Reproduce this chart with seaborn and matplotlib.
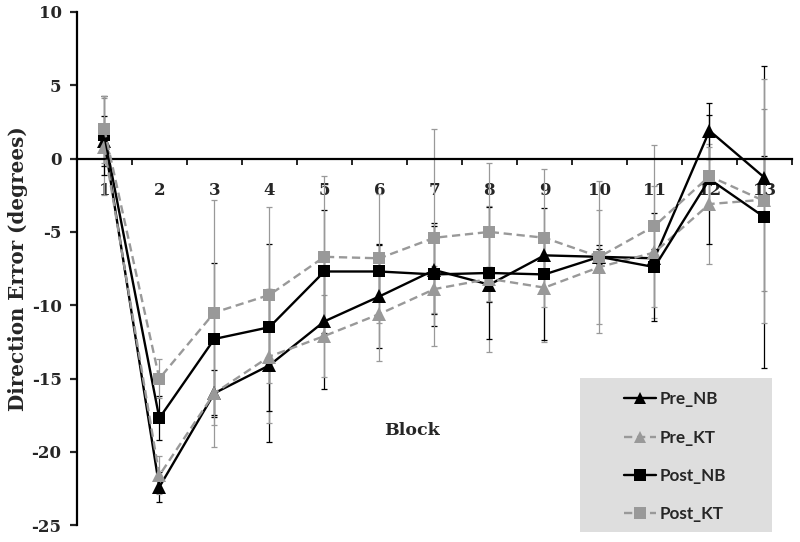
import numpy as np
import pandas as pd
import matplotlib
matplotlib.use("Agg")
import matplotlib.pyplot as plt
from matplotlib.lines import Line2D
from matplotlib.patches import Rectangle
import seaborn as sns

# data
blocks = list(range(1, 14))
groups = ["Pre_NB", "Pre_KT", "Post_NB", "Post_KT"]

pre_nb = [1.2, -22.4, -16.0, -14.1, -11.1, -9.4, -7.6, -8.6, -6.6, -6.7, -6.8, 1.9, -1.3]
pre_kt = [0.8, -21.6, -16.0, -13.5, -12.1, -10.6, -8.9, -8.2, -8.8, -7.4, -6.4, -3.1, -2.8]
post_nb = [1.6, -17.7, -12.3, -11.5, -7.7, -7.7, -7.9, -7.8, -7.9, -6.7, -7.4, -1.4, -4.0]
post_kt = [2.0, -15.0, -10.5, -9.3, -6.7, -6.8, -5.4, -5.0, -5.4, -6.7, -4.6, -1.2, -2.9]

pre_nb_err = [1.7, 1.0, 1.6, 5.2, 4.6, 3.5, 3.0, 1.2, 1.0, 0.5, 0.6, 1.9, 1.5]
pre_kt_err = [3.3, 1.3, 3.7, 4.5, 2.8, 3.2, 1.6, 5.0, 3.7, 3.9, 4.5, 4.1, 6.2]
post_nb_err = [2.7, 1.5, 5.2, 5.7, 4.2, 1.9, 3.5, 4.5, 4.5, 0.8, 3.7, 4.4, 10.3]
post_kt_err = [2.3, 1.3, 7.7, 6.0, 5.5, 4.4, 7.4, 4.7, 4.7, 5.2, 5.5, 2.0, 8.3]

values = {"Pre_NB": pre_nb, "Pre_KT": pre_kt, "Post_NB": post_nb, "Post_KT": post_kt}
errors = {"Pre_NB": pre_nb_err, "Pre_KT": pre_kt_err, "Post_NB": post_nb_err, "Post_KT": post_kt_err}

GRAY = "#999999"
colors = {"Pre_NB": "black", "Pre_KT": GRAY, "Post_NB": "black", "Post_KT": GRAY}
markers = {"Pre_NB": "^", "Pre_KT": "^", "Post_NB": "s", "Post_KT": "s"}
dashes = {"Pre_NB": "", "Pre_KT": (3.5, 2), "Post_NB": "", "Post_KT": (3.5, 2)}

df = pd.DataFrame({
    "Block": np.tile(blocks, len(groups)),
    "Error": np.concatenate([values[g] for g in groups]),
    "Group": np.repeat(groups, len(blocks)),
})

sns.set_theme(style="white")
plt.rcParams["font.family"] = ["DejaVu Serif"]

fig = plt.figure(figsize=(8, 5.42), dpi=100)
ax = fig.add_axes([0.096, 0.031, 0.894, 0.947])

# error bars first, so the lines sit on top
for g in groups:
    ax.errorbar(blocks, values[g], yerr=errors[g], fmt="none", ecolor=colors[g],
                elinewidth=0.9, capsize=2.5, capthick=0.9, zorder=1)

for i, g in enumerate(groups):
    sub = df[df["Group"] == g]
    sns.lineplot(data=sub, x="Block", y="Error", color=colors[g], marker=markers[g],
                 markersize=9.5 if markers[g] == "^" else 8.5, markeredgewidth=0,
                 linewidth=1.7, ax=ax, legend=False, zorder=3 + i,
                 linestyle="-" if not dashes[g] else "--")
    if dashes[g]:
        ax.lines[-1].set_dashes(dashes[g])

ax.set_xlim(0.5, 13.5)
ax.set_ylim(-25, 10)
ax.set_axisbelow(True)

for side in ["top", "right"]:
    ax.spines[side].set_visible(False)
ax.spines["bottom"].set_position(("data", 0))
for side in ["bottom", "left"]:
    ax.spines[side].set_linewidth(1.6)
    ax.spines[side].set_color("black")

ax.set_yticks(range(-25, 11, 5))
ax.set_yticklabels([str(v) for v in range(-25, 11, 5)], fontweight="bold", fontsize=12)
ax.tick_params(axis="y", direction="out", length=5, width=1.6, pad=6, left=True)

# labels sit on the block centres, small tick marks on the boundaries
ax.set_xticks(blocks)
ax.set_xticklabels([str(b) for b in blocks], fontweight="bold", fontsize=12)
ax.tick_params(axis="x", which="major", length=0, pad=17, bottom=True)
ax.set_xticks(np.arange(1.5, 14, 1.0), minor=True)
ax.tick_params(axis="x", which="minor", direction="out", length=4, width=1.4, bottom=True)

ax.set_xlabel("Block", fontweight="bold", fontsize=12.5)
ax.xaxis.set_label_coords(0.4685, 0.202)
ax.set_ylabel("Direction Error (degrees)", fontweight="bold", fontsize=14.3)
ax.yaxis.set_label_coords(-0.068, 0.5)

# legend box
ax.add_patch(Rectangle((0.7035, -0.0136), 0.2685, 0.3001, transform=ax.transAxes,
                       facecolor="#dedede", edgecolor="none", clip_on=False, zorder=8))
handles = [Line2D([], [], color=colors[g], marker=markers[g], markersize=8,
                  markeredgewidth=0, linewidth=1.7,
                  linestyle="--" if dashes[g] else "-") for g in groups]
for h, g in zip(handles, groups):
    if dashes[g]:
        h.set_dashes(dashes[g])
leg = ax.legend(handles, groups, loc="center", bbox_to_anchor=(0.837, 0.1335),
                frameon=False, handlelength=1.85, handletextpad=0.25, labelspacing=1.3,
                prop={"family": "Lato", "weight": "bold", "size": 12.3})
leg.set_zorder(9)

fig.savefig("out.png", dpi=100)
